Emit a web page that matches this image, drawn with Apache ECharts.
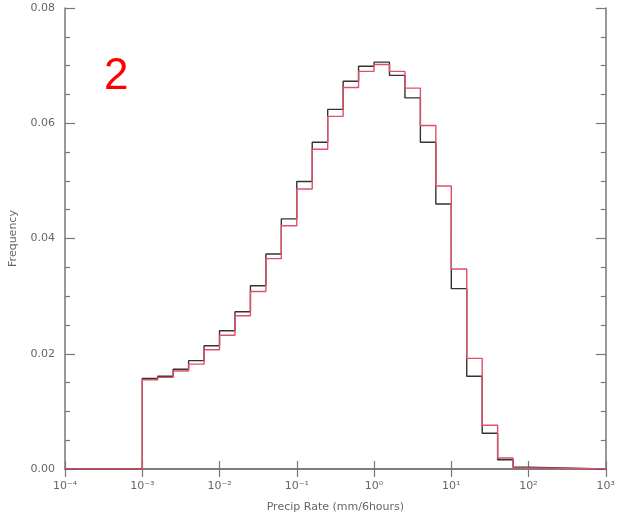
<!DOCTYPE html>
<html>
<head>
<meta charset="utf-8">
<script src="https://cdn.jsdelivr.net/npm/echarts@6/dist/echarts.min.js"></script>
<style>html,body{margin:0;padding:0;background:#fff}#c{width:618px;height:518px}</style>
</head>
<body>
<div id="c"></div>
<script>
// bin edges (0.2-decade bins from 1e-3 to 1e2)
var binEdges = [0.001, 0.001585, 0.002512, 0.003981, 0.00631, 0.01, 0.01585, 0.02512, 0.03981, 0.0631,
  0.1, 0.1585, 0.2512, 0.3981, 0.631, 1, 1.585, 2.512, 3.981, 6.31,
  10, 15.85, 25.12, 39.81, 63.1, 100];
var blackFreq = [0.0157, 0.0161, 0.0173, 0.0188, 0.0214, 0.0240, 0.0273, 0.0318, 0.0373, 0.0434,
  0.0499, 0.0567, 0.0624, 0.0673, 0.0699, 0.0706, 0.0683, 0.0644, 0.0567, 0.0460,
  0.0313, 0.0161, 0.0062, 0.0016, 0.0003];
var redFreq = [0.0155, 0.0159, 0.0170, 0.0182, 0.0207, 0.0232, 0.0266, 0.0308, 0.0365, 0.0422,
  0.0486, 0.0555, 0.0612, 0.0662, 0.0690, 0.0702, 0.0690, 0.0661, 0.0596, 0.0491,
  0.0347, 0.0192, 0.0076, 0.0019, 0.0002];
var xMin = 1e-4, xMax = 1e3;
var supers = {'-4':'⁻⁴','-3':'⁻³','-2':'⁻²','-1':'⁻¹','0':'⁰','1':'¹','2':'²','3':'³'};

function stepData(vals) {
  var d = [[xMin, 0]];
  for (var i = 0; i < vals.length; i++) d.push([binEdges[i], vals[i]]);
  d.push([binEdges[binEdges.length - 1], 0]);
  d.push([xMax, 0]);
  return d;
}

var axisColor = '#777';
var labelColor = '#666';
var chart = echarts.init(document.getElementById('c'));
chart.setOption({
  animation: false,
  grid: {left: 64, right: 10, top: 8, bottom: 47},
  xAxis: [{
    type: 'log', logBase: 10, min: xMin, max: xMax, position: 'bottom',
    axisLine: {lineStyle: {color: axisColor, width: 1.5}},
    axisTick: {inside: true, length: 8, lineStyle: {color: axisColor, width: 1.2}},
    minorTick: {show: false},
    splitLine: {show: false},
    axisLabel: {color: labelColor, fontSize: 11, fontFamily: 'DejaVu Sans', margin: 12,
      formatter: function (v) { var e = Math.round(Math.log10(v)); return '10' + supers[String(e)]; }},
    name: 'Precip Rate (mm/6hours)', nameLocation: 'middle', nameGap: 33,
    nameTextStyle: {color: labelColor, fontSize: 11, fontFamily: 'DejaVu Sans'}
  }, {
    type: 'log', logBase: 10, min: xMin, max: xMax, position: 'top',
    axisLine: {lineStyle: {color: axisColor, width: 1.5}},
    axisTick: {inside: true, length: 8, lineStyle: {color: axisColor, width: 1.2}},
    axisLabel: {show: false}, splitLine: {show: false}
  }],
  yAxis: [{
    type: 'value', min: 0, max: 0.08, interval: 0.02, position: 'left',
    axisLine: {show: true, lineStyle: {color: axisColor, width: 1.5}},
    axisTick: {show: true, inside: true, length: 10, lineStyle: {color: axisColor, width: 1.2}},
    minorTick: {show: true, splitNumber: 4, length: 5, lineStyle: {color: axisColor, width: 1.2}},
    splitLine: {show: false},
    axisLabel: {color: labelColor, fontSize: 11, fontFamily: 'DejaVu Sans', margin: 10,
      formatter: function (v) { return v.toFixed(2); }},
    name: 'Frequency', nameLocation: 'middle', nameGap: 46, nameRotate: 90,
    nameTextStyle: {color: labelColor, fontSize: 11, fontFamily: 'DejaVu Sans'}
  }, {
    type: 'value', min: 0, max: 0.08, interval: 0.02, position: 'right',
    axisLine: {show: true, lineStyle: {color: axisColor, width: 1.5}},
    axisTick: {show: true, inside: true, length: 10, lineStyle: {color: axisColor, width: 1.2}},
    minorTick: {show: true, splitNumber: 4, length: 5, lineStyle: {color: axisColor, width: 1.2}},
    splitLine: {show: false}, axisLabel: {show: false}
  }],
  series: [{
    type: 'line', step: 'end', xAxisIndex: 0, yAxisIndex: 0, showSymbol: false,
    data: stepData(blackFreq),
    lineStyle: {color: '#333', width: 1.4}, z: 2
  }, {
    type: 'line', step: 'end', xAxisIndex: 0, yAxisIndex: 0, showSymbol: false,
    data: stepData(redFreq),
    lineStyle: {color: '#e0506a', width: 1.4}, z: 3
  }],
  graphic: [{
    type: 'text', left: 104, top: 55,
    style: {text: '2', fill: '#ff0000', fontSize: 44, fontFamily: 'Liberation Sans'}
  }]
});
</script>
</body>
</html>
